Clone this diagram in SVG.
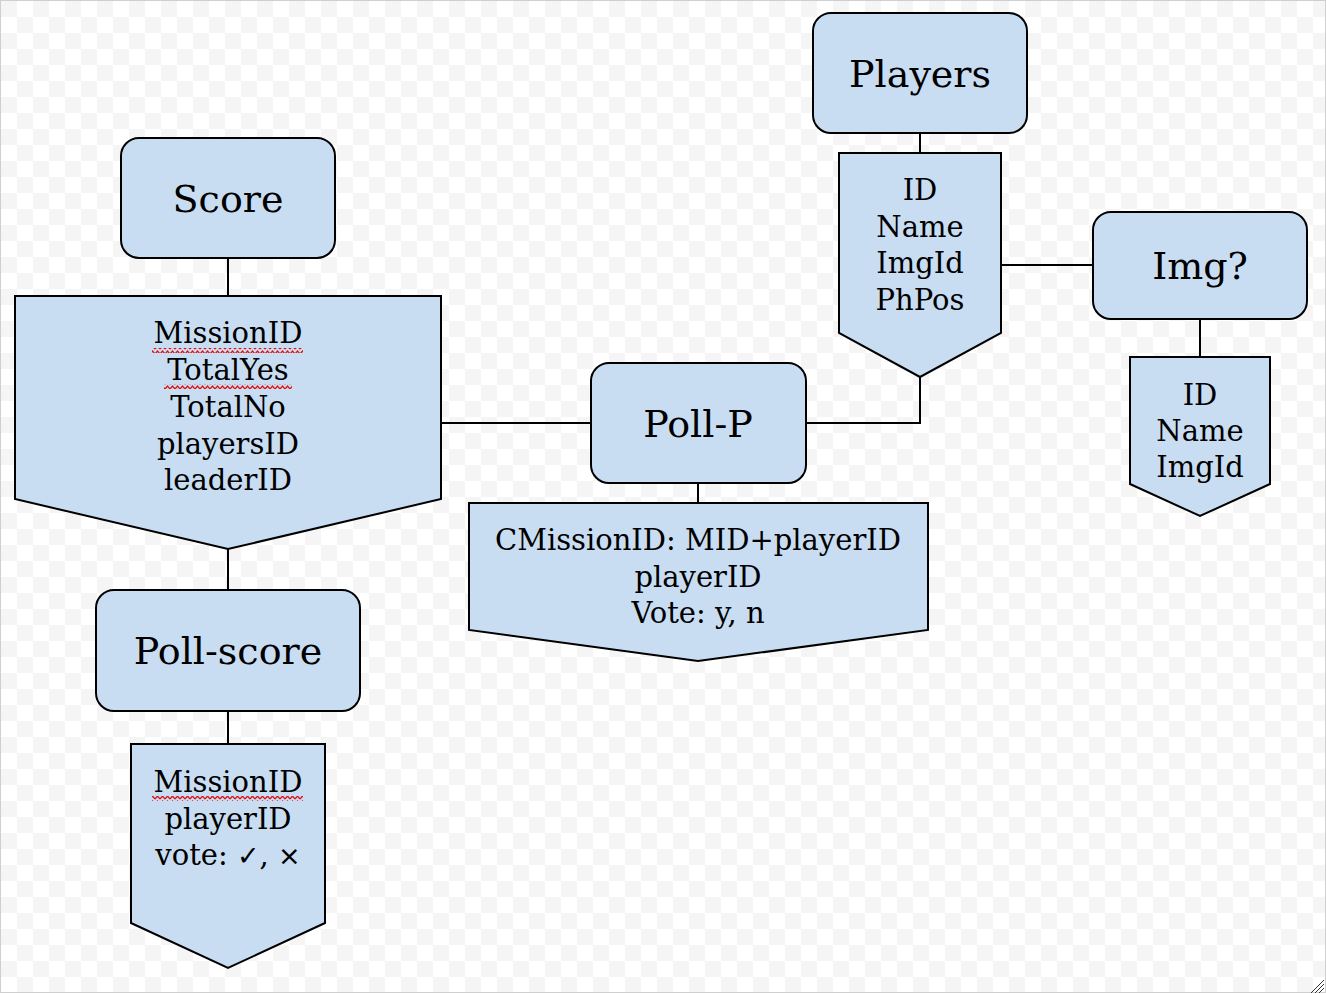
<svg xmlns="http://www.w3.org/2000/svg" width="1326" height="993" viewBox="0 0 1326 993">
<defs>
<pattern id="checker" x="1" y="1" width="32" height="32" patternUnits="userSpaceOnUse">
<rect width="32" height="32" fill="#ffffff"/>
<rect width="16" height="16" fill="#f5f5f5"/>
<rect x="16" y="16" width="16" height="16" fill="#f5f5f5"/>
</pattern>
<pattern id="squiggle" x="0" y="0" width="5" height="5" patternUnits="userSpaceOnUse">
<polyline points="0,4 2.5,1 5,4" fill="none" stroke="#e01010" stroke-width="1.2"/>
</pattern>
</defs>
<style>
.box{fill:#c9ddf2;stroke:#000;stroke-width:2}
.ln{fill:none;stroke:#000;stroke-width:2}
.t{font-family:"DejaVu Serif","Liberation Serif",serif;fill:#000;text-anchor:middle}
.title{font-size:38px}
.body{font-size:29px}
.sym{font-family:"DejaVu Sans","Liberation Sans",sans-serif;font-size:27px}
</style>
<rect width="1326" height="993" fill="url(#checker)"/>
<rect x="0.5" y="0.5" width="1325" height="992" fill="none" stroke="#cfcfcf" stroke-width="1"/>
<g stroke="#333" stroke-width="1">
<line x1="1324" y1="980" x2="1311" y2="993"/>
<line x1="1324" y1="984" x2="1315" y2="993"/>
<line x1="1324" y1="988" x2="1319" y2="993"/>
</g>

<g id="connectors">
<line class="ln" x1="228" y1="258" x2="228" y2="296"/>
<line class="ln" x1="228" y1="549" x2="228" y2="590"/>
<line class="ln" x1="228" y1="711" x2="228" y2="744"/>
<line class="ln" x1="441" y1="423" x2="591" y2="423"/>
<line class="ln" x1="698" y1="483" x2="698" y2="503"/>
<polyline class="ln" points="806,423 920,423 920,377"/>
<line class="ln" x1="920" y1="133" x2="920" y2="153"/>
<line class="ln" x1="1001" y1="265" x2="1093" y2="265"/>
<line class="ln" x1="1200" y1="319" x2="1200" y2="357"/>
</g>

<g id="score">
<rect class="box" x="121" y="138" width="214" height="120" rx="18"/>
<text class="t title" x="228" y="212">Score</text>
</g>
<g id="score-fields">
<polygon class="box" points="15,296 441,296 441,499 228,549 15,499"/>
<text class="t body" x="228" y="343">MissionID</text>
<text class="t body" x="228" y="380">TotalYes</text>
<text class="t body" x="228" y="417">TotalNo</text>
<text class="t body" x="228" y="454">playersID</text>
<text class="t body" x="228" y="490">leaderID</text>
<rect x="152" y="348" width="151" height="5" fill="url(#squiggle)"/>
<rect x="164" y="384" width="128" height="5" fill="url(#squiggle)"/>
</g>

<g id="poll-score">
<rect class="box" x="96" y="590" width="264" height="121" rx="18"/>
<text class="t title" x="228" y="664">Poll-score</text>
</g>
<g id="poll-score-fields">
<polygon class="box" points="131,744 325,744 325,923 228,968 131,923"/>
<text class="t body" x="228" y="792">MissionID</text>
<text class="t body" x="228" y="829">playerID</text>
<text class="t body" x="228" y="865">vote: <tspan class="sym">✓</tspan>, <tspan class="sym">×</tspan></text>
<rect x="152" y="796" width="151" height="5" fill="url(#squiggle)"/>
</g>

<g id="poll-p">
<rect class="box" x="591" y="363" width="215" height="120" rx="18"/>
<text class="t title" x="698" y="437">Poll-P</text>
</g>
<g id="poll-p-fields">
<polygon class="box" points="469,503 928,503 928,630 698,661 469,630"/>
<text class="t body" x="698" y="550">CMissionID: MID+playerID</text>
<text class="t body" x="698" y="587">playerID</text>
<text class="t body" x="698" y="623">Vote: y, n</text>
</g>

<g id="players">
<rect class="box" x="813" y="13" width="214" height="120" rx="18"/>
<text class="t title" x="920" y="87">Players</text>
</g>
<g id="players-fields">
<polygon class="box" points="839,153 1001,153 1001,333 920,377 839,333"/>
<text class="t body" x="920" y="200">ID</text>
<text class="t body" x="920" y="237">Name</text>
<text class="t body" x="920" y="273">ImgId</text>
<text class="t body" x="920" y="310">PhPos</text>
</g>

<g id="img">
<rect class="box" x="1093" y="212" width="214" height="107" rx="18"/>
<text class="t title" x="1200" y="279">Img?</text>
</g>
<g id="img-fields">
<polygon class="box" points="1130,357 1270,357 1270,484 1200,516 1130,484"/>
<text class="t body" x="1200" y="405">ID</text>
<text class="t body" x="1200" y="441">Name</text>
<text class="t body" x="1200" y="477">ImgId</text>
</g>
</svg>
